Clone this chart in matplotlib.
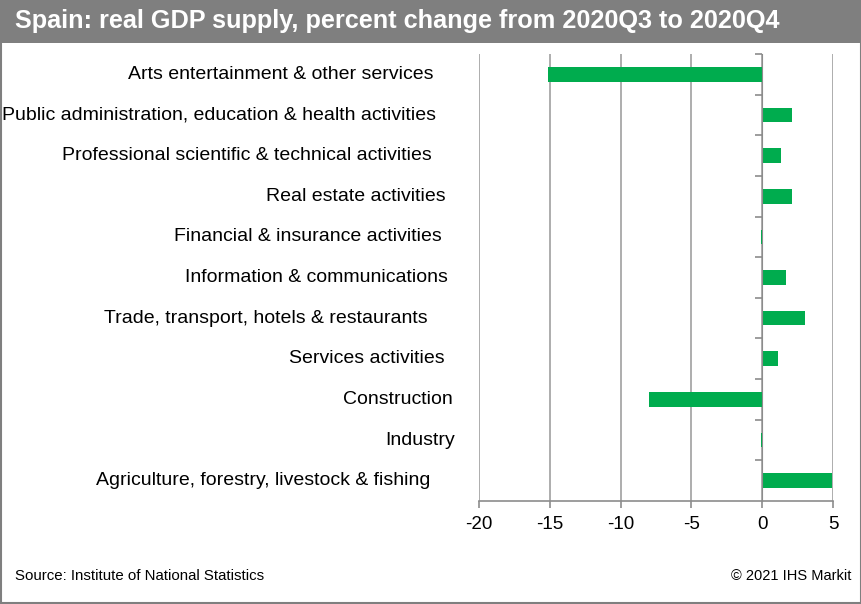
import matplotlib.pyplot as plt
from matplotlib.patches import Rectangle
import matplotlib.transforms as mtransforms

categories = [
    "Arts entertainment & other services",
    "Public administration, education & health activities",
    "Professional scientific & technical activities",
    "Real estate activities",
    "Financial & insurance activities",
    "Information & communications",
    "Trade, transport, hotels & restaurants",
    "Services activities",
    "Construction",
    "Industry",
    "Agriculture, forestry, livestock & fishing",
]
values = [-15.1, 2.1, 1.3, 2.1, -0.1, 1.7, 3.0, 1.1, -8.0, -0.1, 4.9]
xticks = [-20, -15, -10, -5, 0, 5]

# gap (px) between each label's right end and the plot's left edge
label_gap = [45, 43, 47, 33, 37, 31, 51, 34, 26, 24, 49]

W, H = 862, 604
fig = plt.figure(figsize=(W / 100, H / 100), dpi=100)
plt.rcParams['font.family'] = ['Liberation Sans', 'DejaVu Sans']

left, right, top, bottom = 479, 833, 54, 501
ax = fig.add_axes([left / W, 1 - bottom / H, (right - left) / W, (bottom - top) / H])

ypos = list(range(len(categories)))
ax.barh(ypos, values, height=0.36, color="#00ac4e", zorder=3)
ax.set_ylim(len(categories) - 0.5, -0.5)
ax.set_xlim(-20, 5)
ax.set_xticks(xticks)
ax.set_xticklabels([str(t) for t in xticks], fontsize=13.5)
ax.grid(axis="x", color="#a0a0a0", linewidth=1.2, zorder=0)

grey = "#8c8c8c"
for s in ["top", "right"]:
    ax.spines[s].set_visible(False)
ax.spines["left"].set_position(("data", 0))
ax.spines["left"].set_color(grey)
ax.spines["left"].set_zorder(4)
ax.spines["bottom"].set_color(grey)
ax.spines["bottom"].set_linewidth(1.2)
ax.tick_params(axis="x", colors=grey, labelcolor="black", length=5, width=1.2, pad=6)
ax.set_yticks([])
ax.set_yticks([i - 0.5 for i in range(len(categories))], minor=True)
ax.tick_params(axis="y", which="minor", colors=grey, length=5, width=1.2)

trans = ax.get_yaxis_transform()
for i, (cat, gap) in enumerate(zip(categories, label_gap)):
    off = mtransforms.ScaledTranslation(-gap / 100, 0, fig.dpi_scale_trans)
    ax.text(0, i, cat, transform=trans + off, ha="right", va="center", fontsize=14)

# title bar and frame
fig.patches.append(Rectangle((0, 1 - 43 / H), 1, 43 / H, transform=fig.transFigure,
                             facecolor="#7f7f7f", edgecolor="none", zorder=0))
fig.patches.append(Rectangle((0.001, 0.002), 0.998, 0.996, transform=fig.transFigure,
                             facecolor="none", edgecolor="#7f7f7f", linewidth=1.5, zorder=5))
fig.text(15 / W, 1 - 21 / H, "Spain: real GDP supply, percent change from 2020Q3 to 2020Q4",
         color="white", fontsize=18.2, fontweight="bold", va="center", ha="left")

fig.text(15 / W, 1 - 576 / H, "Source: Institute of National Statistics", fontsize=10.8,
         va="center", ha="left")
fig.text(851 / W, 1 - 576 / H, "\u00a9 2021 IHS Markit", fontsize=10.5,
         va="center", ha="right")

fig.savefig("out.png", dpi=100)
